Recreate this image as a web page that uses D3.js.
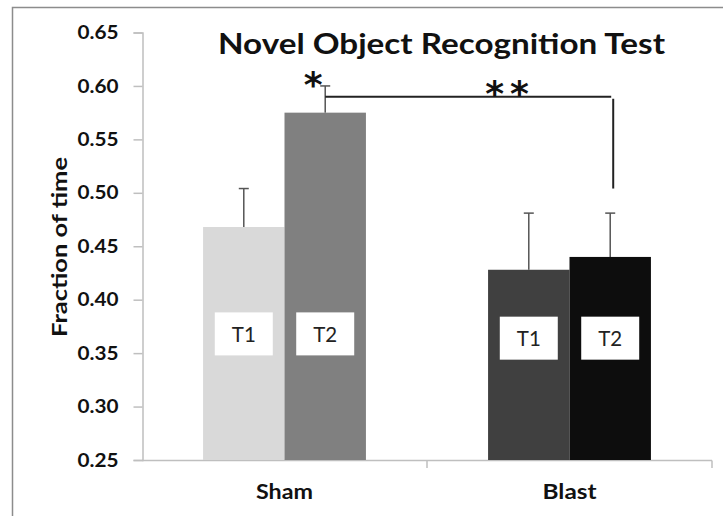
<!DOCTYPE html>
<html>
<head>
<meta charset="utf-8">
<script src="https://cdn.jsdelivr.net/npm/d3@7/dist/d3.min.js"></script>
<style>
  html, body { margin: 0; padding: 0; background: #fff; }
  svg { display: block; }
</style>
</head>
<body>
<svg id="chart" width="723" height="516"></svg>
<script>
// Novel object recognition: fraction of time per trial, by group
const groups = ["Sham", "Blast"];
const trials = ["T1", "T2"];
const meanSham = [0.468, 0.575];
const meanBlast = [0.428, 0.440];
const errSham = [0.036, 0.025];
const errBlast = [0.053, 0.041];
const yTicks = [0.25, 0.30, 0.35, 0.40, 0.45, 0.50, 0.55, 0.60, 0.65];
const barColors = { Sham: ["#d9d9d9", "#808080"], Blast: ["#404040", "#0d0d0d"] };
// vertical position (in data units) of the trial name labels inside the bars
const labelLevel = { Sham: 0.368, Blast: 0.364 };

const rows = [];
groups.forEach((g, gi) => {
  const means = gi === 0 ? meanSham : meanBlast;
  const errs = gi === 0 ? errSham : errBlast;
  trials.forEach((t, ti) => rows.push({ group: g, trial: t, mean: means[ti], err: errs[ti], color: barColors[g][ti] }));
});

const svg = d3.select("#chart");
const font = "Lato, 'Open Sans', sans-serif";

// stretch a text element horizontally to a given width
function fitWidth(sel, w) {
  sel.attr("textLength", w).attr("lengthAdjust", "spacingAndGlyphs");
}

// outer frame (left and top edges)
svg.append("path")
  .attr("d", "M12.5,516 V7.5 H723")
  .attr("fill", "none").attr("stroke", "#8c8c8c").attr("stroke-width", 1.5);

const x0 = d3.scaleBand().domain(groups).range([142, 712]).paddingInner(0).paddingOuter(0);
const x1 = d3.scaleBand().domain(trials).range([0, x0.bandwidth()]).paddingInner(0).paddingOuter(0.75);
const y = d3.scaleLinear().domain([0.25, 0.65]).range([460, 32.5]);

// y axis
const yAxis = svg.append("g").attr("transform", "translate(142.5,0)")
  .call(d3.axisLeft(y).tickValues(yTicks).tickFormat(d3.format(".2f")).tickSize(9).tickPadding(15));
yAxis.select(".domain").attr("stroke", "#bfbfbf").attr("stroke-width", 1.5);
yAxis.selectAll(".tick line").attr("stroke", "#bfbfbf").attr("stroke-width", 1.5);
yAxis.selectAll(".tick text").attr("fill", "#111").attr("font-family", font)
  .attr("font-weight", "bold").attr("font-size", 19).attr("x", -65).attr("text-anchor", "start")
  .call(fitWidth, 41);

// x axis
const xAxis = svg.append("g").attr("transform", "translate(0,460.5)")
  .call(d3.axisBottom(x0).tickSize(0).tickPadding(24));
xAxis.select(".domain").remove();
xAxis.selectAll(".tick text").attr("fill", "#111").attr("font-family", font)
  .attr("font-weight", "bold").attr("font-size", 20)
  .each(function(d) { d3.select(this).call(fitWidth, d === "Sham" ? 57 : 54); });
const xEdges = [142, 142 + x0.bandwidth(), 712];
svg.append("line").attr("x1", 142).attr("x2", 712).attr("y1", 460.5).attr("y2", 460.5)
  .attr("stroke", "#bfbfbf").attr("stroke-width", 1.5);
svg.selectAll(".xtick").data(xEdges.slice(1)).join("line").attr("class", "xtick")
  .attr("x1", d => d).attr("x2", d => d).attr("y1", 460.5).attr("y2", 468)
  .attr("stroke", "#bfbfbf").attr("stroke-width", 1.5);

const bx = d => x0(d.group) + x1(d.trial);
const cx = d => bx(d) + x1.bandwidth() / 2;

// error bars (drawn behind bars, upper half visible)
svg.selectAll(".err").data(rows).join("line").attr("class", "err")
  .attr("x1", cx).attr("x2", cx).attr("y1", d => y(d.mean)).attr("y2", d => y(d.mean + d.err))
  .attr("stroke", "#555").attr("stroke-width", 1.5);
svg.selectAll(".cap").data(rows).join("line").attr("class", "cap")
  .attr("x1", d => cx(d) - 5).attr("x2", d => cx(d) + 5)
  .attr("y1", d => y(d.mean + d.err)).attr("y2", d => y(d.mean + d.err))
  .attr("stroke", "#555").attr("stroke-width", 1.5);

// bars
svg.selectAll(".bar").data(rows).join("rect").attr("class", "bar")
  .attr("x", bx).attr("width", x1.bandwidth())
  .attr("y", d => y(d.mean)).attr("height", d => y(0.25) - y(d.mean))
  .attr("fill", d => d.color);

// trial name labels in white boxes
const lab = svg.selectAll(".lab").data(rows).join("g").attr("class", "lab")
  .attr("transform", d => `translate(${cx(d)},${y(labelLevel[d.group])})`);
lab.append("rect").attr("x", -29).attr("y", -21.5).attr("width", 58).attr("height", 43).attr("fill", "#fff");
lab.append("text").text(d => d.trial).attr("text-anchor", "middle").attr("dy", "0.36em")
  .attr("font-family", font).attr("font-size", 22).attr("fill", "#222")
  .call(fitWidth, 24);

// significance bracket between Sham T2 and Blast T2
const shamT2 = rows[1], blastT2 = rows[3];
svg.append("line").attr("x1", cx(shamT2)).attr("x2", cx(blastT2) + 1)
  .attr("y1", y(0.590)).attr("y2", y(0.590)).attr("stroke", "#222").attr("stroke-width", 2);
svg.append("line").attr("x1", cx(blastT2) + 3).attr("x2", cx(blastT2) + 3)
  .attr("y1", y(0.588)).attr("y2", y(0.504)).attr("stroke", "#222").attr("stroke-width", 2);

svg.append("text").text("*").attr("x", cx(shamT2) - 12).attr("y", 97)
  .attr("text-anchor", "middle").attr("font-family", "'DejaVu Sans', sans-serif")
  .attr("font-weight", "bold").attr("font-size", 36).attr("fill", "#111");
svg.append("text").text("**").attr("x", 510).attr("y", 106)
  .attr("text-anchor", "middle").attr("font-family", "'DejaVu Sans', sans-serif")
  .attr("font-weight", "bold").attr("font-size", 36).attr("letter-spacing", 6).attr("fill", "#111");

// title
svg.append("text").text("Novel Object Recognition Test").attr("x", 441.5).attr("y", 54)
  .attr("text-anchor", "middle").attr("font-family", font).attr("font-weight", "bold")
  .attr("font-size", 28).attr("fill", "#111")
  .call(fitWidth, 447);

// y axis title
svg.append("text").text("Fraction of time")
  .attr("transform", "translate(67,247) rotate(-90)")
  .attr("text-anchor", "middle").attr("font-family", font).attr("font-weight", "bold")
  .attr("font-size", 20).attr("fill", "#111")
  .call(fitWidth, 180);
</script>
</body>
</html>
